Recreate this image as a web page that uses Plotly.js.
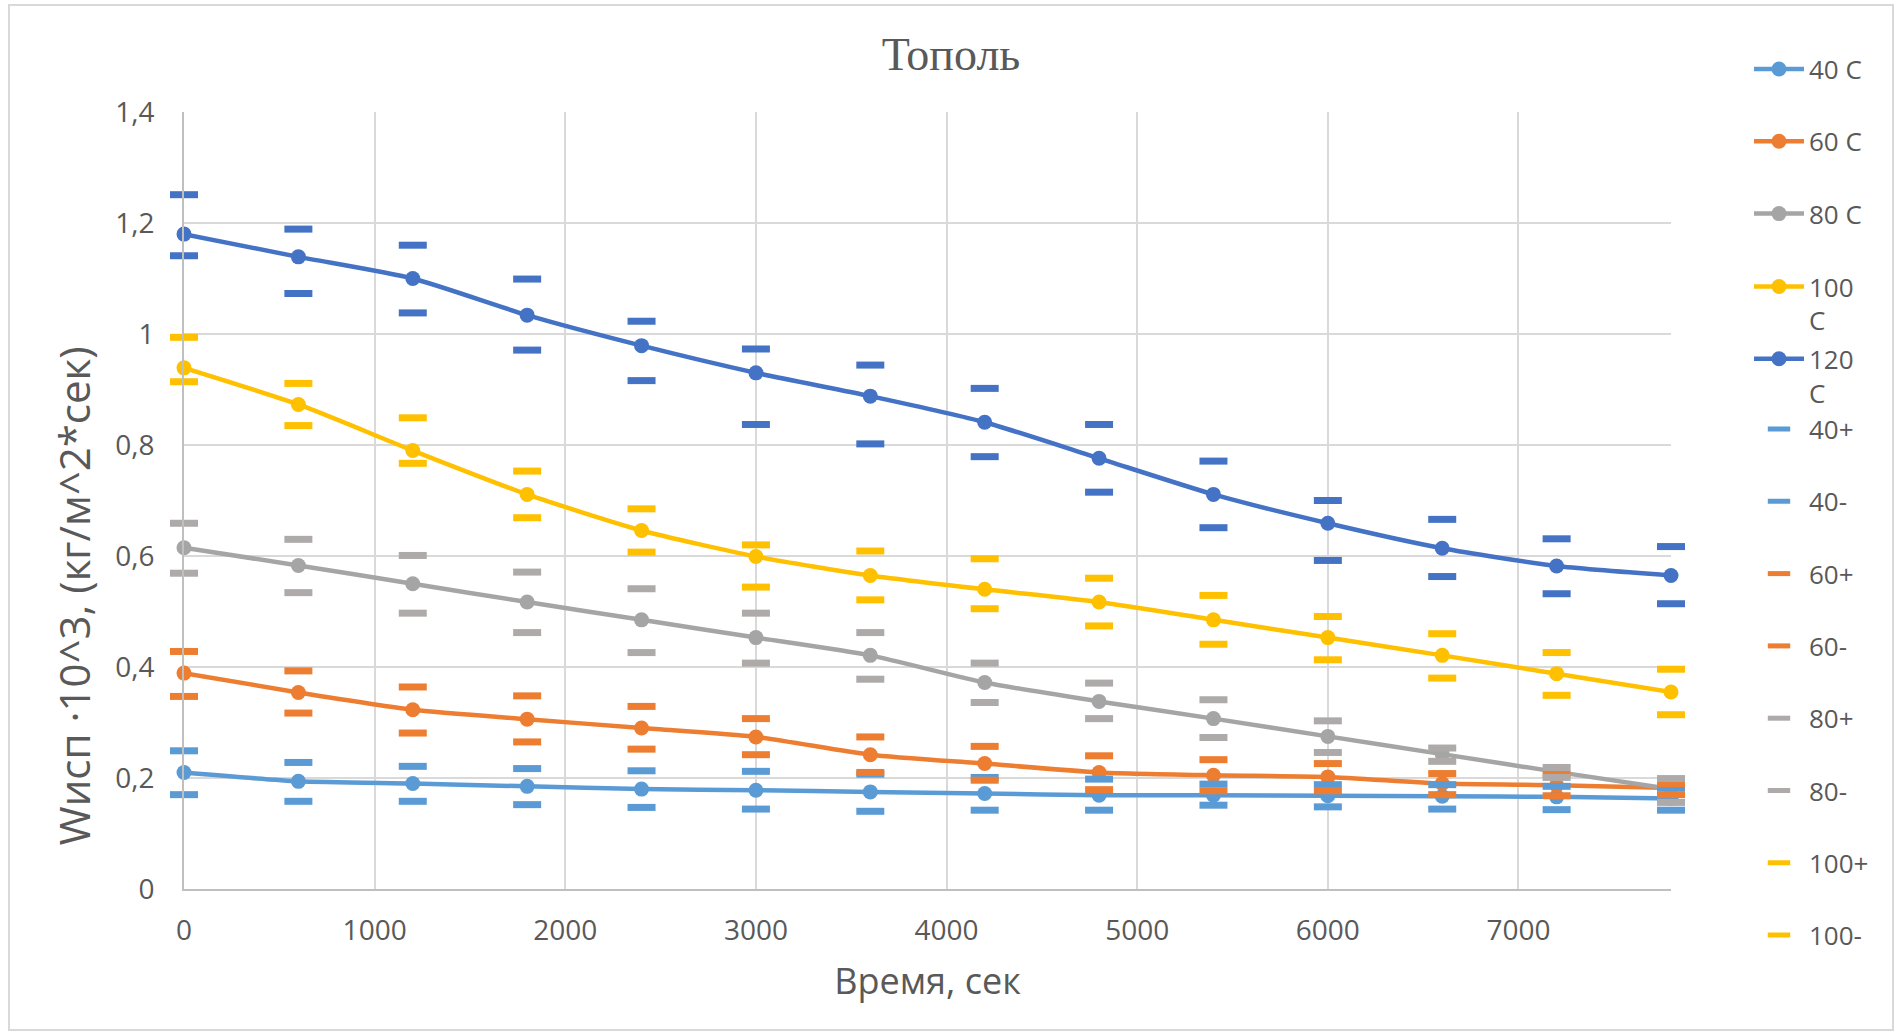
<!DOCTYPE html>
<html>
<head>
<meta charset="utf-8">
<script src="https://cdn.plot.ly/plotly-3.0.1.min.js"></script>
<style>
  html, body { margin: 0; padding: 0; background: #ffffff; }
  #wrap { position: relative; width: 1896px; height: 1033px; }
  #chart { width: 1896px; height: 1033px; }
  #frame {
    position: absolute; left: 8px; top: 4px; width: 1886px; height: 1027px;
    box-sizing: border-box; border: 2px solid #D9D9D9; pointer-events: none;
  }
</style>
</head>
<body>
<div id="wrap"><div id="chart"></div><div id="frame"></div></div>
<script>
// Time points, seconds
const timeSec = [0, 600, 1200, 1800, 2400, 3000, 3600, 4200, 4800, 5400, 6000, 6600, 7200, 7800];

// Mean evaporation rate W·10^3 at each drying temperature
const w40  = [0.210, 0.194, 0.190, 0.185, 0.180, 0.178, 0.175, 0.172, 0.169, 0.169, 0.168, 0.167, 0.166, 0.163];
const w60  = [0.389, 0.354, 0.323, 0.306, 0.290, 0.274, 0.242, 0.226, 0.210, 0.205, 0.202, 0.190, 0.187, 0.182];
const w80  = [0.615, 0.583, 0.550, 0.517, 0.485, 0.453, 0.421, 0.372, 0.338, 0.307, 0.275, 0.243, 0.211, 0.180];
const w100 = [0.939, 0.873, 0.790, 0.711, 0.646, 0.599, 0.565, 0.540, 0.517, 0.485, 0.453, 0.421, 0.388, 0.355];
const w120 = [1.180, 1.139, 1.100, 1.034, 0.979, 0.930, 0.888, 0.841, 0.776, 0.711, 0.659, 0.614, 0.582, 0.565];

// Upper / lower bounds
const w40Up   = [0.249, 0.228, 0.221, 0.217, 0.213, 0.212, 0.207, 0.201, 0.198, 0.189, 0.188, 0.188, 0.185, 0.182];
const w40Lo   = [0.170, 0.158, 0.158, 0.152, 0.147, 0.144, 0.140, 0.142, 0.142, 0.151, 0.148, 0.144, 0.143, 0.142];
const w60Up   = [0.428, 0.393, 0.364, 0.348, 0.329, 0.307, 0.274, 0.257, 0.240, 0.233, 0.226, 0.208, 0.207, 0.190];
const w60Lo   = [0.347, 0.317, 0.281, 0.265, 0.252, 0.242, 0.210, 0.196, 0.179, 0.177, 0.177, 0.170, 0.168, 0.170];
const w80Up   = [0.659, 0.630, 0.601, 0.571, 0.541, 0.497, 0.462, 0.407, 0.371, 0.341, 0.303, 0.254, 0.219, 0.199];
const w80Lo   = [0.569, 0.534, 0.497, 0.462, 0.426, 0.407, 0.378, 0.336, 0.307, 0.273, 0.246, 0.230, 0.201, 0.156];
const w100Up  = [0.994, 0.911, 0.849, 0.753, 0.685, 0.620, 0.609, 0.595, 0.560, 0.529, 0.491, 0.460, 0.426, 0.396];
const w100Lo  = [0.914, 0.835, 0.767, 0.669, 0.607, 0.544, 0.521, 0.505, 0.474, 0.441, 0.413, 0.380, 0.349, 0.314];
const w120Up  = [1.251, 1.189, 1.160, 1.099, 1.023, 0.973, 0.944, 0.902, 0.837, 0.771, 0.700, 0.666, 0.631, 0.617];
const w120Lo  = [1.141, 1.073, 1.038, 0.971, 0.916, 0.837, 0.802, 0.779, 0.715, 0.651, 0.592, 0.563, 0.532, 0.514];

const C40 = '#5B9BD5', C60 = '#ED7D31', C80 = '#A5A5A5', C80b = '#AEAAAA', C100 = '#FFC000', C120 = '#4472C4';
const FONT = '"Open Sans", "Noto Sans", sans-serif';
const TXT = '#595959';

function mainTrace(name, y, color, legendId) {
  return {
    type: 'scatter', mode: 'lines+markers', x: timeSec, y: y, name: name,
    legend: legendId, legendgroup: name,
    line: { color: color, width: 4.5, shape: 'spline', smoothing: 0.6 },
    marker: { color: color, size: 15 },
    cliponaxis: false
  };
}
function boundTrace(name, y, color, show) {
  return {
    type: 'scatter', mode: 'markers', x: timeSec, y: y, name: name,
    legend: 'legend3', legendgroup: name, showlegend: show,
    marker: { symbol: 'line-ew', size: 20, color: color, line: { color: color, width: 7 } },
    cliponaxis: false
  };
}

const data = [
  mainTrace('40 C', w40, C40, 'legend'),
  mainTrace('60 C', w60, C60, 'legend'),
  mainTrace('80 C', w80, C80, 'legend'),
  mainTrace('100<br>C', w100, C100, 'legend2'),
  mainTrace('120<br>C', w120, C120, 'legend2'),
  boundTrace('40+', w40Up, C40, true),
  boundTrace('40-', w40Lo, C40, true),
  boundTrace('60+', w60Up, C60, true),
  boundTrace('60-', w60Lo, C60, true),
  boundTrace('80+', w80Up, C80b, true),
  boundTrace('80-', w80Lo, C80b, true),
  boundTrace('100+', w100Up, C100, true),
  boundTrace('100-', w100Lo, C100, true),
  boundTrace('120+', w120Up, C120, false),
  boundTrace('120-', w120Lo, C120, false)
];

const legendBase = {
  xref: 'container', yref: 'container', x: 1749 / 1896, xanchor: 'left', yanchor: 'top',
  bgcolor: 'rgba(0,0,0,0)', borderwidth: 0, traceorder: 'grouped', maxheight: 900,
  itemwidth: 50,
  font: { family: FONT, size: 26, color: TXT }
};

const layout = {
  width: 1896, height: 1033,
  paper_bgcolor: '#ffffff', plot_bgcolor: '#ffffff',
  margin: { l: 184, r: 225, t: 112, b: 144, pad: 0 },
  separators: ', ',
  font: { family: FONT, color: TXT },
  title: {
    text: 'Тополь', xref: 'container', yref: 'container',
    x: 0.5016, y: 0.9477, xanchor: 'center', yanchor: 'middle',
    font: { family: '"Liberation Serif", "DejaVu Serif", serif', size: 46, color: TXT }
  },
  xaxis: {
    range: [0, 7800], dtick: 1000, tick0: 0,
    showgrid: true, gridcolor: '#D9D9D9', gridwidth: 2,
    showline: true, linecolor: '#BFBFBF', linewidth: 2,
    zeroline: false, ticks: '', ticklabelstandoff: 15,
    tickfont: { family: FONT, size: 28, color: TXT },
    title: { text: 'Время, сек', standoff: 22, font: { family: FONT, size: 36, color: TXT } }
  },
  yaxis: {
    range: [0, 1.4], dtick: 0.2, tick0: 0,
    showgrid: true, gridcolor: '#D9D9D9', gridwidth: 2,
    showline: true, linecolor: '#BFBFBF', linewidth: 2,
    zeroline: false, ticks: '', ticklabelstandoff: 22,
    tickfont: { family: FONT, size: 28, color: TXT }
  },
  annotations: [{
    text: 'Wисп ·10^3, (кг/м^2*сек)', textangle: -90,
    xref: 'paper', yref: 'paper', x: -0.0746, y: 0.377,
    xanchor: 'center', yanchor: 'middle', showarrow: false,
    font: { family: FONT, size: 42, color: TXT }
  }],
  legend:  Object.assign({}, legendBase, { y: 1 - 45.6 / 1033, tracegroupgap: 35.5 }),
  legend2: Object.assign({}, legendBase, { y: 1 - 263.1 / 1033, tracegroupgap: 1.7, valign: 'top' }),
  legend3: Object.assign({}, legendBase, { y: 1 - 405.6 / 1033, tracegroupgap: 35.5 }),
  showlegend: true
};

Plotly.newPlot('chart', data, layout, { displayModeBar: false, staticPlot: true });
</script>
</body>
</html>
